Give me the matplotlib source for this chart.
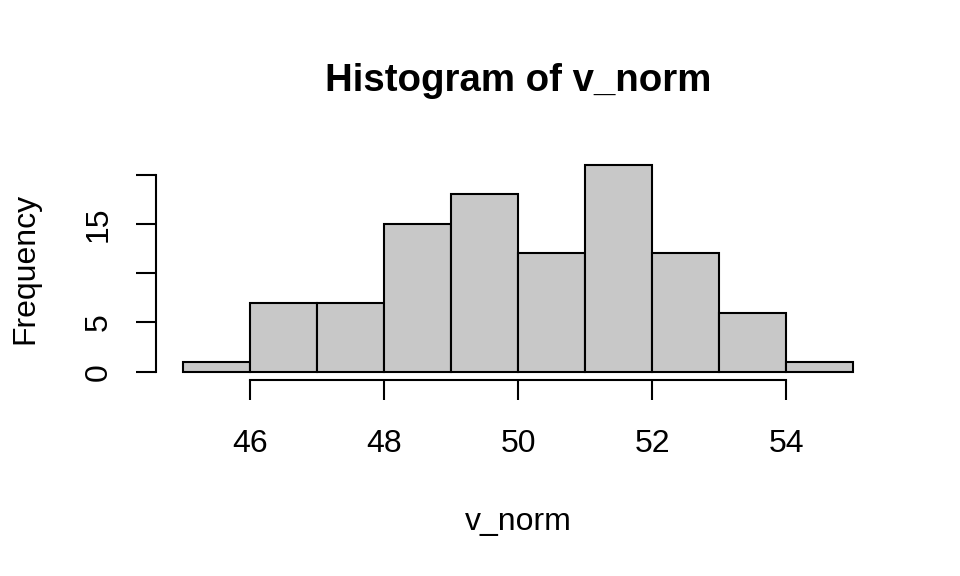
'''histogram of v_norm, base-R style
'''
import matplotlib
matplotlib.use('Agg')
import matplotlib.pyplot as plt

bin_edges = [45, 46, 47, 48, 49, 50, 51, 52, 53, 54, 55]
counts = [1, 7, 7, 15, 18, 12, 21, 12, 6, 1]
x_ticks = [46, 48, 50, 52, 54]
y_ticks = [0, 5, 10, 15, 20]
y_labels = ['0', '5', '', '15', '']

plt.rcParams['font.family'] = ['Liberation Sans', 'DejaVu Sans']

fig = plt.figure(figsize=(9.6, 5.76), dpi=100)
ax = fig.add_axes([156 / 960, (576 - 380) / 576, (880 - 156) / 960, (380 - 156.5) / 576])

lefts = bin_edges[:-1]
widths = [b - a for a, b in zip(bin_edges[:-1], bin_edges[1:])]
ax.bar(lefts, counts, width=widths, align='edge', color='#C8C8C8',
       edgecolor='black', linewidth=1.5)

ax.set_xlim(44.6, 55.4)
ax.set_ylim(-0.84, 21.84)
for side in ['top', 'right']:
    ax.spines[side].set_visible(False)
ax.spines['bottom'].set_bounds(x_ticks[0], x_ticks[-1])
ax.spines['left'].set_bounds(y_ticks[0], y_ticks[-1])
for side in ['bottom', 'left']:
    ax.spines[side].set_linewidth(1.5)

ax.set_xticks(x_ticks)
ax.set_yticks(y_ticks)
ax.set_yticklabels(y_labels, rotation=90, va='center')
ax.tick_params(axis='both', direction='out', length=14.5, width=1.5,
               labelsize=23)
ax.tick_params(axis='x', pad=21)
ax.tick_params(axis='y', pad=16)

ax.set_xlabel('v_norm', fontsize=23, labelpad=34)
ax.set_ylabel('Frequency', fontsize=23, labelpad=31)
fig.text(518 / 960, 1 - 81 / 576, 'Histogram of v_norm', ha='center',
         va='center', fontsize=27.6, fontweight='bold')

fig.savefig('out.png', dpi=100)
